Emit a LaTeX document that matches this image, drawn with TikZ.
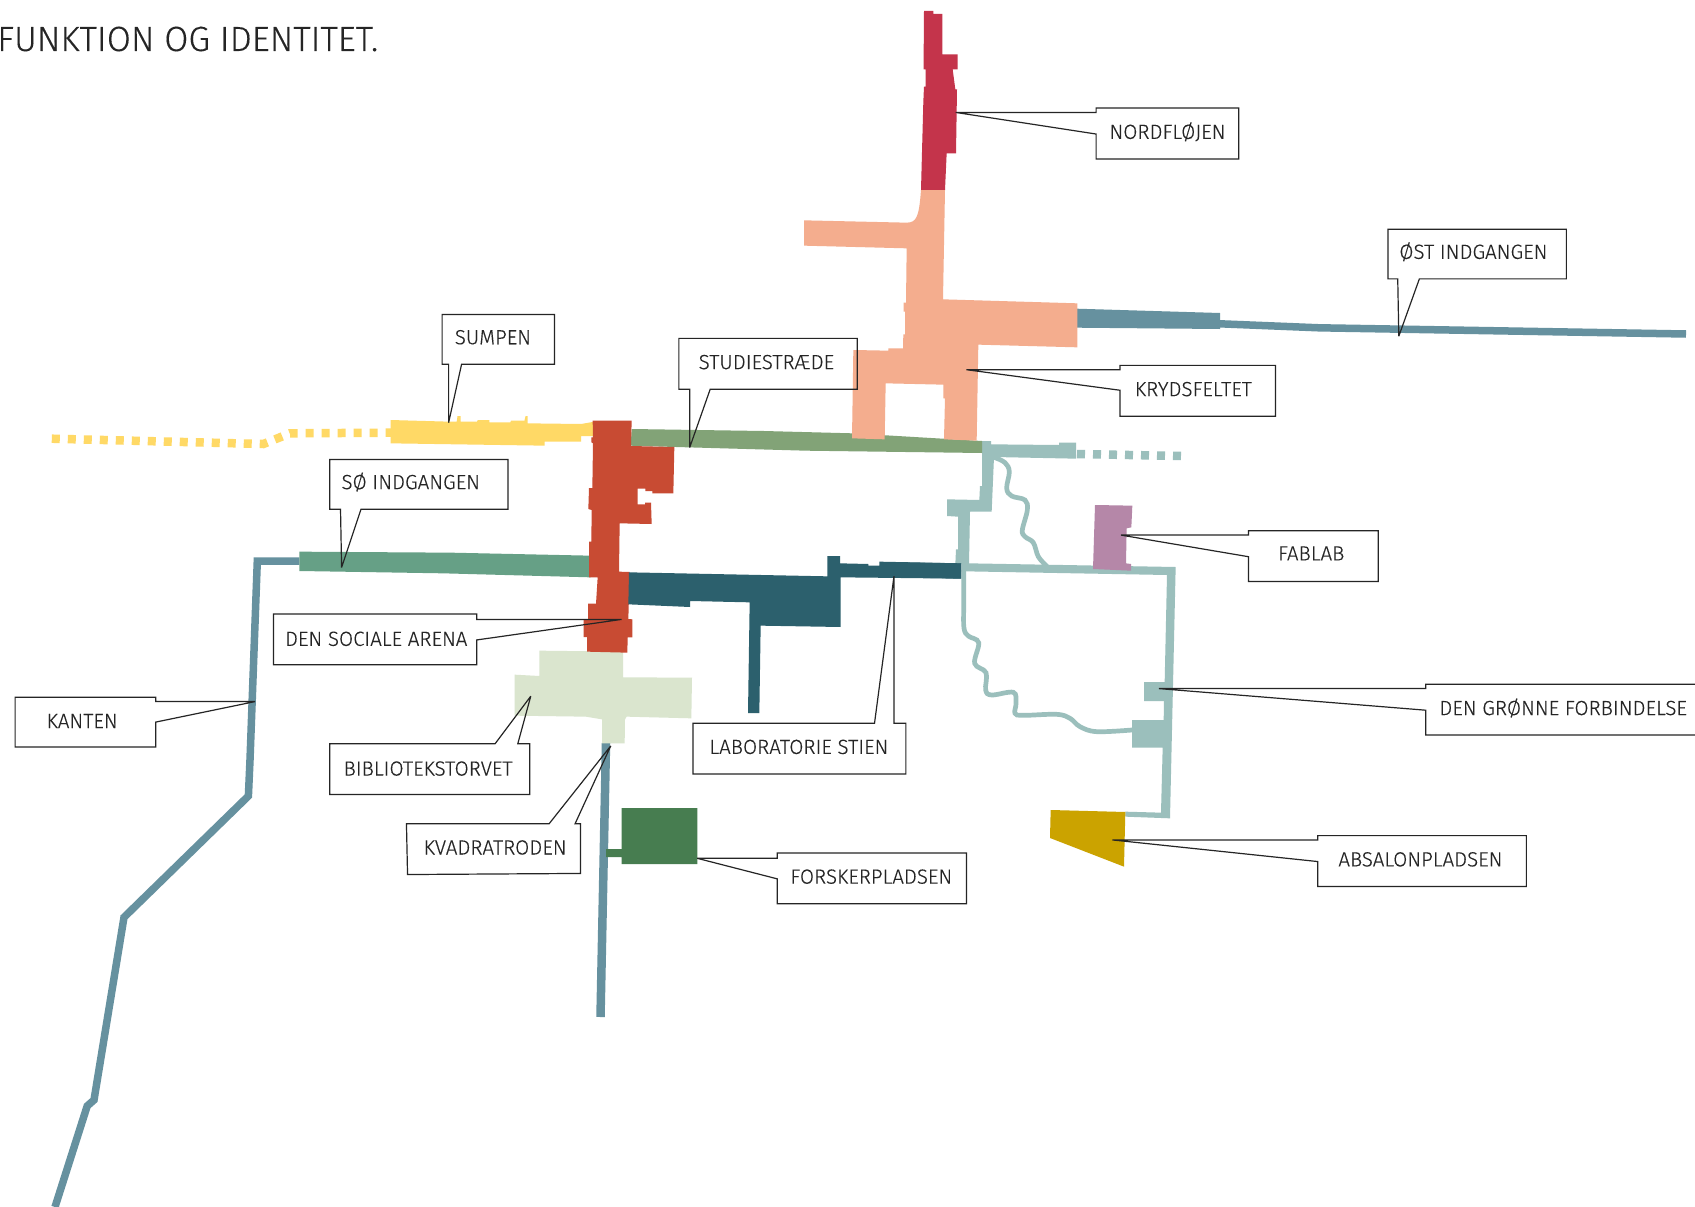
\documentclass[tikz,border=0pt]{standalone}
\usepackage{fontspec}
\setmainfont[FakeBold=0.25]{Fira Sans Light}
\definecolor{cred}{HTML}{C4344B}
\definecolor{cpeach}{HTML}{F4AD8E}
\definecolor{cgreen}{HTML}{82A377}
\definecolor{corange}{HTML}{C84B33}
\definecolor{cdark}{HTML}{2C606D}
\definecolor{cyellow}{HTML}{FFD966}
\definecolor{csea}{HTML}{66A086}
\definecolor{cblue}{HTML}{66919F}
\definecolor{clight}{HTML}{DAE5CE}
\definecolor{cforest}{HTML}{477D50}
\definecolor{cteal}{HTML}{9BBFBC}
\definecolor{cpurple}{HTML}{B587A8}
\definecolor{cgold}{HTML}{CBA300}
\definecolor{ctext}{HTML}{252525}
\tikzset{
  zoomA/.style={shift={(780,0)},xscale=0.33333,yscale=0.33333},
  zoomB/.style={shift={(560,400)},xscale=0.33333,yscale=0.33333},
  zoomC/.style={shift={(900,420)},xscale=0.33333,yscale=0.33333},
  zoomD/.style={shift={(30,400)},xscale=0.3827,yscale=0.33333},
  disp/.style={xscale=1.081,yscale=1.081},
  wire/.style={line width=7.5pt,line join=miter},
  wiggle/.style={draw=cteal,line width=4.7pt,line cap=round},
  dots/.style={line width=8.5pt,dash pattern=on 8pt off 8pt},
  calloutline/.style={draw=ctext,line width=1.2pt,line join=miter,miter limit=2},
  label/.style={text=ctext,font=\fontsize{20.5}{24}\selectfont,inner sep=0pt,text height=14pt,text depth=0pt},
  headline/.style={text=ctext,font=\fontsize{35}{42}\selectfont,inner sep=0pt,anchor=base west}
}
\newcommand{\callout}[4]{\draw[calloutline] #4 -- cycle; \node[label] (#1) at #2 {#3};}
\begin{document}
\begin{tikzpicture}[x=1pt,y=-1pt]
\clip (0,0) rectangle (1695,1207);
\fill[white] (0,0) rectangle (1695,1207);
\node[headline] (title) at (-3,51) {FUNKTION OG IDENTITET.};
% blue lines
\draw[cblue,wire] (299.4,561) -- (257.3,561) -- (250,760) -- (248.4,796) -- (124,917.3) -- (94,1100) -- (87.2,1106) -- (55,1207);
\draw[cblue,line width=8.5pt] (606,743) -- (600.5,1017);
\draw[cblue,line width=7.5pt] (1220,323.8) -- (1319,327.8) -- (1686,334);
\fill[cblue] (1077,308.7) -- (1220,313) -- (1220,329) -- (1077,327.7) -- cycle;
% forest
\fill[cforest] (621.7,808) -- (697.3,808) -- (697.3,864) -- (621.7,864) -- (621.7,857) -- (606,857) -- (606,849) -- (621.7,849) -- cycle;
% yellow
\draw[cyellow,dots] (51.8,438.7) -- (263.4,444) -- (290,433.3) -- (392,432.7);
\begin{scope}[zoomD]
\fill[cyellow] (942,60) -- (1095,65) -- (1115,65) -- (1117,48) -- (1125,48) -- (1125,65) -- (1168,65) -- (1170,60) -- (1200,60) -- (1200,67) -- (1255,67) -- (1257,62) -- (1292,62) -- (1295,48) -- (1300,48) -- (1300,70) -- (1440,72) -- (1475,65) -- (1475,108) -- (1440,108) -- (1440,125) -- (1345,125) -- (1345,137) -- (942,130) -- cycle;
\fill[csea] (704,455) -- (1100,458) -- (1465,467) -- (1465,532) -- (1080,520) -- (704,513) -- cycle;
\end{scope}
% teal system
\begin{scope}[zoomC]
\fill[cteal] (246,63) -- (273,63) -- (273,73) -- (477,75) -- (477,68) -- (528,68) -- (528,116) -- (282,111) -- (275,275) -- (210,275) -- (207,432) -- (166,432) -- (168,388) -- (174,388) -- (174,290) -- (141,288) -- (141,238) -- (238,240) -- (240,198) -- (246,198) -- cycle;
\fill[cteal] (184,430) -- (207,430) -- (827,441) -- (810,1195) -- (676,1190) -- (676,1175) -- (783,1178) -- (788,983) -- (696,983) -- (696,900) -- (791,900) -- (792,843) -- (732,843) -- (732,786) -- (794,786) -- (801,465) -- (197,454) -- (184,454) -- cycle;
\draw[wiggle] plot[smooth,tension=0.6] coordinates {(191,454) (191,560) (192,625) (205,648) (236,668) (224,730) (258,758) (257,810) (275,825) (340,817) (348,850) (345,880) (370,886) (470,883) (510,895) (540,920) (590,935) (696,930)};
\draw[wiggle] plot[smooth,tension=0.6] coordinates {(285,113) (315,128) (328,155) (320,205) (335,228) (375,240) (382,270) (367,330) (375,350) (400,368) (415,410) (440,438)};
\fill[cpurple] (585,255) -- (697,257) -- (694,322) -- (680,325) -- (678,430) -- (693,432) -- (693,452) -- (579,447) -- cycle;
\fill[cgold] (452,1170) -- (676,1176) -- (672,1340) -- (450,1254) -- cycle;
\fill[cdark] (0,427) -- (183,430) -- (183,476) -- (0,472) -- cycle;
\end{scope}
\draw[cteal,dots] (1077,454) -- (1181.3,456);
% green
\fill[cgreen] (631.7,429) -- (764,431) -- (851.7,433.3) -- (982,441) -- (982,453) -- (806.7,450.7) -- (721.7,448.3) -- (630.7,445.7) -- cycle;
% peach & red
\begin{scope}[zoomA]
\fill[cpeach] (423,570) -- (495,570) -- (489,898) -- (892,910) -- (892,1042) -- (595,1034) -- (590,1322) -- (492,1318) -- (495,1195) -- (490,1195) -- (490,1154) -- (317,1150) -- (314,1318) -- (216,1315) -- (220,1050) -- (325,1052) -- (325,1045) -- (369,1045) -- (370,1003) -- (375,1003) -- (375,935) -- (371,935) -- (371,908) -- (378,908) -- (380,745) -- (72,737) -- (72,661) -- (380,668) .. controls (410,668) and (417,650) .. (423,570) -- cycle;
\fill[cred] (432,33) -- (460,33) -- (460,42) -- (487,42) -- (487,163) -- (533,163) -- (533,208) -- (518,208) -- (526,268) -- (531,268) -- (528,460) -- (500,460) -- (495,570) -- (423,570) -- (430,305) -- (432,260) -- (437,260) -- (437,208) -- (431,208) -- (431,160) -- cycle;
\end{scope}
\begin{scope}[zoomB]
\fill[clight] (189,755) -- (189,832) -- (396,833) -- (394,955) -- (200,950) -- (195,958) -- (194,1030) -- (126,1030) -- (126,958) -- (78,950) -- (-136,947) -- (-136,824) -- (-62,828) -- (-62,752) -- cycle;
\fill[corange] (98,62) -- (215,62) -- (213,138) -- (343,141) -- (340,280) -- (277,280) -- (277,273) -- (256,273) -- (256,266) -- (233,266) -- (233,313) -- (255,313) -- (255,308) -- (273,308) -- (275,372) -- (179,370) -- (177,515) -- (209,516) -- (205,657) -- (217,658) -- (217,712) -- (203,712) -- (202,758) -- (81,755) -- (81,711) -- (71,711) -- (71,657) -- (84,657) -- (84,611) -- (108,611) -- (113,532) -- (87,532) -- (87,425) -- (94,425) -- (95,330) -- (85,327) -- (87,264) -- (97,264) -- (99,130) -- (94,127) -- (94,112) -- (99,112) -- cycle;
\fill[cdark] (207,517) -- (802,529) -- (802,468) -- (840,468) -- (840,490) -- (925,492) -- (925,497) -- (958,497) -- (958,485) -- (1203,490) -- (1203,536) -- (842,532) -- (842,681) -- (602,677) -- (598,939) -- (564,939) -- (569,607) -- (390,603) -- (390,621) -- (205,613) -- cycle;
\end{scope}
% callouts
\begin{scope}[disp]
\callout{nord}{(1080,122)}{NORDFLØJEN}{(884,104) -- (1014,104) -- (1014,100) -- (1146,100) -- (1146,147) -- (1014,147) -- (1014,124)}
\callout{oest}{(1363,233)}{ØST INDGANGEN}{(1284,212) -- (1449,212) -- (1449,258) -- (1313,258) -- (1294,311) -- (1293,258) -- (1284,258)}
\callout{kryds}{(1104,360)}{KRYDSFELTET}{(894,342) -- (1036,342) -- (1036,338) -- (1180,338) -- (1180,385) -- (1036,385) -- (1036,361)}
\callout{sump}{(456,312)}{SUMPEN}{(409,291) -- (513,291) -- (513,337) -- (427,337) -- (415,391) -- (415,337) -- (409,337)}
\callout{stud}{(709,335)}{STUDIESTRÆDE}{(628,313) -- (793,313) -- (793,360) -- (657,360) -- (638,414) -- (638,360) -- (628,360)}
\callout{soe}{(380,446)}{SØ INDGANGEN}{(305,425) -- (470,425) -- (470,471) -- (334,471) -- (316,525) -- (315,471) -- (305,471)}
\callout{fab}{(1213,512)}{FABLAB}{(1037,495) -- (1155,495) -- (1155,491) -- (1275,491) -- (1275,538) -- (1155,538) -- (1155,515)}
\callout{soc}{(348,591)}{DEN SOCIALE ARENA}{(253,568) -- (441,568) -- (441,573) -- (575,573) -- (441,592) -- (441,615) -- (253,615)}
\callout{groen}{(1446,655)}{DEN GRØNNE FORBINDELSE}{(1072,637) -- (1319,637) -- (1319,633) -- (1580,633) -- (1580,680) -- (1319,680) -- (1319,657)}
\callout{kant}{(76,667)}{KANTEN}{(14,645) -- (144,645) -- (144,649) -- (236,649) -- (144,668) -- (144,691) -- (14,691)}
\callout{bib}{(396,711)}{BIBLIOTEKSTORVET}{(305,688) -- (458,688) -- (491,644) -- (479,688) -- (490,688) -- (490,735) -- (305,735)}
\callout{lab}{(739,691)}{LABORATORIE STIEN}{(641,669) -- (809,669) -- (827,533) -- (827,669) -- (838,669) -- (838,716) -- (641,716)}
\callout{kvad}{(458,784)}{KVADRATRODEN}{(376,762) -- (508,762) -- (565,690) -- (532,762) -- (537,762) -- (537,808) -- (377,809)}
\callout{forsk}{(806,811)}{FORSKERPLADSEN}{(645,794) -- (719,794) -- (719,789) -- (894,789) -- (894,836) -- (719,836) -- (719,813)}
\callout{absa}{(1314,795)}{ABSALONPLADSEN}{(1029,777) -- (1219,777) -- (1219,773) -- (1412,773) -- (1412,820) -- (1219,820) -- (1219,797)}
\end{scope}
\end{tikzpicture}
\end{document}
